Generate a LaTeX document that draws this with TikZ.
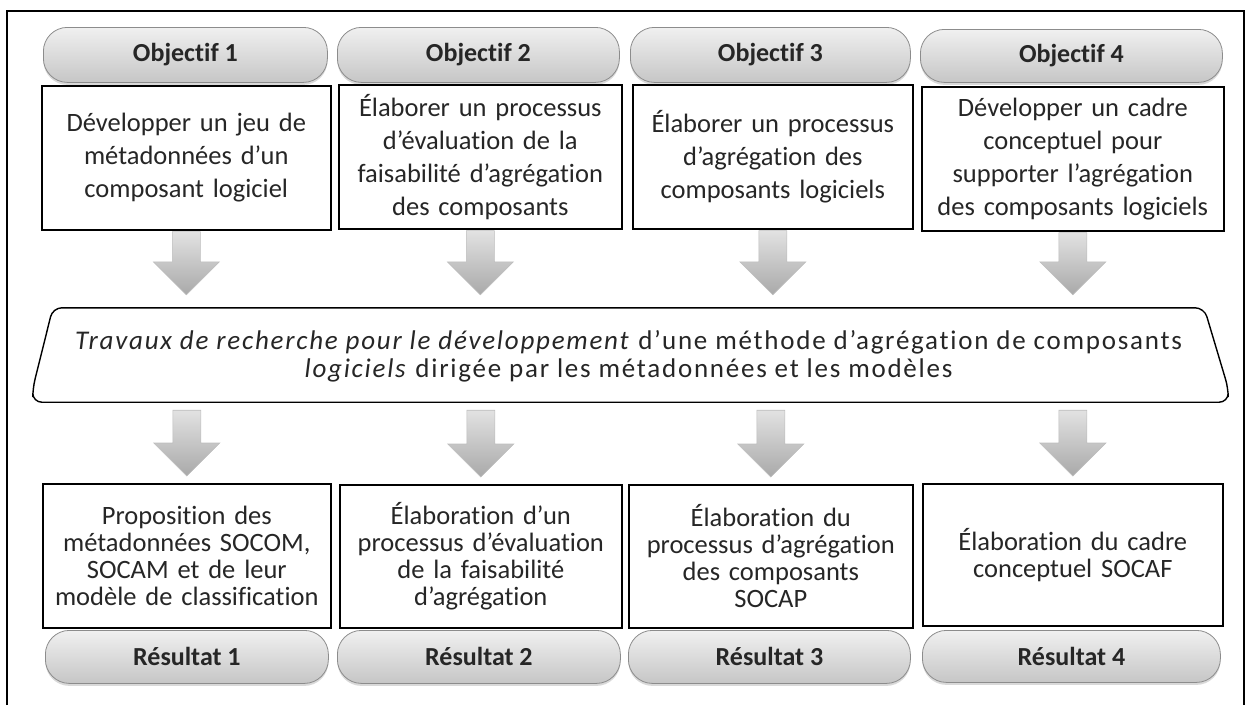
\documentclass[tikz,border=0pt]{standalone}
\usepackage{fontspec}
\setmainfont{Carlito}[Ligatures={NoCommon}]
\usetikzlibrary{calc,shadows}
\definecolor{ink}{HTML}{262626}
\definecolor{pillline}{HTML}{8C8C8C}
\definecolor{pilltop}{HTML}{F0F0F0}
\definecolor{pillbot}{HTML}{C6C6C6}
\definecolor{arrtop}{HTML}{E2E2E2}
\definecolor{arrbot}{HTML}{A9A9A9}
\definecolor{arrline}{HTML}{BDBDBD}

% downward block arrow: shaft starts below #1 (gap #3), tip above #2 (gap #4)
\newcommand{\blockarrow}[4]{%
  \path[blockarrow] let \p1=(#1), \p2=(#2) in
    (\x2-14pt,\y1-#3) -- (\x2+14pt,\y1-#3) -- (\x2+14pt,\y2+#4+33pt)
    -- (\x2+33pt,\y2+#4+33pt) -- (\x2,\y2+#4) -- (\x2-33pt,\y2+#4+33pt)
    -- (\x2-14pt,\y2+#4+33pt) -- cycle;}

\begin{document}
\begin{tikzpicture}[x=1pt,y=-1pt,
  pill/.style={rectangle, rounded corners=24pt, draw=pillline, line width=0.8pt,
    top color=pilltop, bottom color=pillbot, text=ink, inner sep=0pt,
    anchor=north west, font=\bfseries\fontsize{26}{30}\selectfont,
    drop shadow={shadow xshift=0pt, shadow yshift=-2.5pt, opacity=0.3}},
  card/.style={rectangle, draw=black, line width=1.6pt, fill=white, text=ink,
    inner sep=0pt, anchor=north west, align=center},
  topcard/.style={card, font=\fontsize{26.5}{33}\selectfont},
  botcard/.style={card, font=\fontsize{26.5}{27}\selectfont},
  blockarrow/.style={top color=arrtop, bottom color=arrbot, draw=arrline, line width=0.6pt},
  midline/.style={draw=black, line width=1.4pt, fill=white, rounded corners=9pt},
  midtext/.style={text=ink, align=center,
    font=\fontsize{27}{28}\selectfont\addfontfeatures{LetterSpace=6.5}},
  frame/.style={draw=black, line width=2pt}]
\useasboundingbox (0,0) rectangle (1249,705);

% outer frame, open at the bottom
\draw[frame] (7,705) -- (7,11) -- (1244,11) -- (1244,705);

% objectives
\node[pill, minimum width=284, minimum height=55] (o1) at (43,27) {Objectif 1};
\node[pill, minimum width=282, minimum height=55] (o2) at (337,27) {Objectif 2};
\node[pill, minimum width=280, minimum height=55] (o3) at (630,27) {Objectif 3};
\node[pill, minimum width=302, minimum height=53] (o4) at (920,29) {Objectif 4};

\node[topcard, minimum width=289, minimum height=144, text width=280] (b1) at (41,85)
  {Développer un jeu de\\métadonnées d'un\\composant logiciel};
\node[topcard, minimum width=283, minimum height=144, text width=280] (b2) at (338,84)
  {Élaborer un processus\\d’évaluation de la\\faisabilité d’agrégation\\des composants};
\node[topcard, minimum width=280, minimum height=144, text width=276] (b3) at (632,84)
  {Élaborer un processus\\d’agrégation des\\composants logiciels};
\node[topcard, minimum width=302, minimum height=144, text width=298] (b4) at (921,86)
  {Développer un cadre\\conceptuel pour\\supporter l’agrégation\\des composants logiciels};

% central research work
\node[minimum width=1195, minimum height=94, inner sep=0pt] (mid) at (630.5,355) {};
\draw[midline] ($(mid.north west)+(20,0)$) -- ($(mid.north east)+(-24,0)$)
  -- ($(mid.south east)+(0,-14)$) -- (mid.south east) -- (mid.south west)
  -- ($(mid.south west)+(0,-14)$) -- cycle;
\node[midtext] at ($(mid.center)+(-2,1)$)
  {\textit{Travaux de recherche pour le développement} d’une méthode d’agrégation de composants\\
   \textit{logiciels} dirigée par les métadonnées et les modèles};

% results
\node[botcard, minimum width=288, minimum height=144, text width=284] (c1) at (42,483)
  {Proposition des\\métadonnées SOCOM,\\SOCAM et de leur\\modèle de classification};
\node[botcard, minimum width=282, minimum height=143, text width=278] (c2) at (339,484)
  {Élaboration d’un\\processus d’évaluation\\de la faisabilité\\d’agrégation};
\node[botcard, minimum width=284, minimum height=143, text width=280] (c3) at (628,484)
  {Élaboration du\\processus d’agrégation\\des composants\\SOCAP};
\node[botcard, minimum width=300, minimum height=142, text width=296] (c4) at (922,483)
  {Élaboration du cadre\\conceptuel SOCAF};

\node[pill, minimum width=283, minimum height=53] (r1) at (45,630) {Résultat 1};
\node[pill, minimum width=283, minimum height=53] (r2) at (337,630) {Résultat 2};
\node[pill, minimum width=282, minimum height=53] (r3) at (628,630) {Résultat 3};
\node[pill, minimum width=298, minimum height=52] (r4) at (922,630) {Résultat 4};

% arrows from objectives into the research work
\blockarrow{b1.south}{b1.south |- mid.north}{1pt}{13pt}
\blockarrow{b2.south}{b2.south |- mid.north}{1pt}{13pt}
\blockarrow{b3.south}{b3.south |- mid.north}{1pt}{13pt}
\blockarrow{b4.south}{b4.south |- mid.north}{1pt}{13pt}
% arrows from the research work to the results
\blockarrow{c1.north |- mid.south}{c1.north}{8pt}{7pt}
\blockarrow{c2.north |- mid.south}{c2.north}{8pt}{7pt}
\blockarrow{c3.north |- mid.south}{c3.north}{8pt}{7pt}
\blockarrow{c4.north |- mid.south}{c4.north}{8pt}{7pt}
\end{tikzpicture}
\end{document}
